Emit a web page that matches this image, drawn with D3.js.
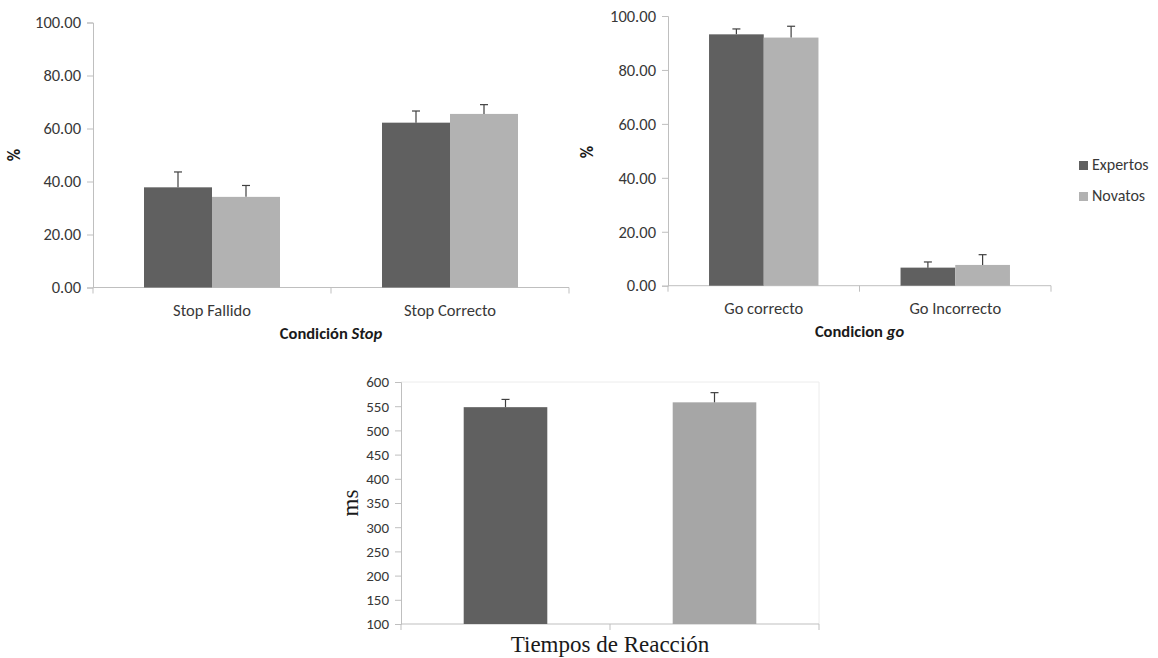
<!DOCTYPE html>
<html>
<head>
<meta charset="utf-8">
<script src="https://cdn.jsdelivr.net/npm/d3@7"></script>
<style>
  html, body { margin: 0; padding: 0; background: #fff; }
  svg { display: block; }
</style>
</head>
<body>
<svg id="chart" width="1158" height="658"></svg>
<script>
// ---------- data ----------
const series = ["Expertos", "Novatos"];

const stopCategories = ["Stop Fallido", "Stop Correcto"];
const stopExpertos = [37.8, 62.2];
const stopNovatos = [34.2, 65.5];
const stopExpertosErr = [5.8, 4.4];
const stopNovatosErr = [4.3, 3.5];

const goCategories = ["Go correcto", "Go Incorrecto"];
const goExpertos = [93.2, 6.7];
const goNovatos = [92.0, 7.7];
const goExpertosErr = [2.0, 2.1];
const goNovatosErr = [4.2, 3.8];

const pctTicks = [0, 20, 40, 60, 80, 100];

const rtCategories = ["Expertos", "Novatos"];
const rtValues = [548, 558];
const rtErr = [16, 20];
const rtTicks = [100, 150, 200, 250, 300, 350, 400, 450, 500, 550, 600];

// ---------- styles ----------
const colors = { Expertos: "#606060", Novatos: "#b2b2b2" };
const rtColors = { Expertos: "#606060", Novatos: "#a6a6a6" };
const axisColor = "#bfbfbf";
const errColor = "#404040";
const textColor = "#383838";
const sansFont = "Carlito, Lato, 'Open Sans', sans-serif";
const serifFont = "'Liberation Serif', 'DejaVu Serif', serif";

const svg = d3.select("#chart");

function drawAxes(g, x, y, ticks, fmt, tickSize, x0, x1, y0) {
  const yAxis = d3.axisLeft(y).tickValues(ticks).tickFormat(fmt).tickSize(6).tickPadding(6);
  const ya = g.append("g").attr("transform", `translate(${x0},0)`).call(yAxis);
  ya.select(".domain").attr("stroke", axisColor);
  ya.selectAll(".tick line").attr("stroke", axisColor);
  ya.selectAll(".tick text")
    .style("font-family", sansFont).style("font-size", tickSize + "px").attr("fill", textColor);
  g.append("line").attr("x1", x0).attr("x2", x1).attr("y1", y0).attr("y2", y0)
    .attr("stroke", axisColor);
  const bounds = [x.range()[0]].concat(x.domain().map(d => x(d) + x.bandwidth()));
  g.selectAll(null).data(bounds).enter().append("line")
    .attr("x1", d => d).attr("x2", d => d).attr("y1", y0).attr("y2", y0 + 6)
    .attr("stroke", axisColor);
}

function groupedChart(opts) {
  const g = svg.append("g");
  const x = d3.scaleBand().domain(opts.categories).range([opts.x0, opts.x1]);
  const y = d3.scaleLinear().domain([0, 100]).range([opts.y0, opts.y1]);
  const groupW = x.bandwidth() * (2 / 3.5);
  const xs = d3.scaleBand().domain(series).range([0, groupW]);

  drawAxes(g, x, y, pctTicks, d3.format(".2f"), 16.5, opts.x0, opts.x1, opts.y0);

  const data = [];
  opts.categories.forEach((c, i) => {
    data.push({ c, s: "Expertos", v: opts.exp[i], e: opts.expErr[i] });
    data.push({ c, s: "Novatos", v: opts.nov[i], e: opts.novErr[i] });
  });
  const bx = d => x(d.c) + (x.bandwidth() - groupW) / 2 + xs(d.s);

  g.selectAll(".bar").data(data).enter().append("rect")
    .attr("x", bx).attr("width", xs.bandwidth())
    .attr("y", d => y(d.v)).attr("height", d => y(0) - y(d.v))
    .attr("fill", d => colors[d.s]);

  const ex = d => bx(d) + xs.bandwidth() / 2;
  g.selectAll(".err").data(data).enter().append("line")
    .attr("x1", ex).attr("x2", ex).attr("y1", d => y(d.v)).attr("y2", d => y(d.v + d.e))
    .attr("stroke", errColor).attr("stroke-width", 1.2);
  g.selectAll(".cap").data(data).enter().append("line")
    .attr("x1", d => ex(d) - 4).attr("x2", d => ex(d) + 4)
    .attr("y1", d => y(d.v + d.e)).attr("y2", d => y(d.v + d.e))
    .attr("stroke", errColor).attr("stroke-width", 1.2);

  g.selectAll(".cat").data(opts.categories).enter().append("text")
    .attr("x", d => x(d) + x.bandwidth() / 2).attr("y", opts.y0 + 28)
    .attr("text-anchor", "middle").style("font-family", sansFont).style("font-size", "16.5px")
    .attr("fill", textColor).text(d => d);

  const t = g.append("text").attr("x", (opts.x0 + opts.x1) / 2).attr("y", opts.y0 + 51)
    .attr("text-anchor", "middle").style("font-family", sansFont).style("font-size", "16.5px")
    .style("font-weight", "bold").attr("fill", "#1a1a1a");
  t.append("tspan").text(opts.title[0]);
  t.append("tspan").style("font-style", "italic").text(opts.title[1]);

  g.append("text").attr("transform", `translate(${opts.ylabX},${opts.ylabY}) rotate(-90)`)
    .attr("text-anchor", "middle").attr("dominant-baseline", "middle")
    .style("font-family", sansFont).style("font-size", "17px").style("font-weight", "bold")
    .attr("fill", "#1a1a1a").text("%");
}

groupedChart({
  categories: stopCategories, exp: stopExpertos, nov: stopNovatos,
  expErr: stopExpertosErr, novErr: stopNovatosErr,
  x0: 93, x1: 569, y0: 287.5, y1: 22.5,
  title: ["Condición ", "Stop"], ylabX: 16, ylabY: 155
});

groupedChart({
  categories: goCategories, exp: goExpertos, nov: goNovatos,
  expErr: goExpertosErr, novErr: goNovatosErr,
  x0: 668, x1: 1051, y0: 285.7, y1: 16,
  title: ["Condicion ", "go"], ylabX: 589, ylabY: 152
});

// legend
const leg = svg.append("g");
series.forEach((s, i) => {
  const ly = 166 + i * 31;
  leg.append("rect").attr("x", 1079).attr("y", ly - 5).attr("width", 9).attr("height", 9)
    .attr("fill", colors[s]);
  leg.append("text").attr("x", 1092).attr("y", ly).attr("dominant-baseline", "middle")
    .style("font-family", sansFont).style("font-size", "16px").attr("fill", textColor).text(s);
});

// ---------- reaction time chart ----------
(function () {
  const x0 = 401, x1 = 819, y0 = 624, y1 = 382;
  const g = svg.append("g");
  const x = d3.scaleBand().domain(rtCategories).range([x0, x1]);
  const y = d3.scaleLinear().domain([100, 600]).range([y0, y1]);
  const bw = x.bandwidth() / 2.5;

  g.append("line").attr("x1", x0).attr("x2", x1).attr("y1", y1).attr("y2", y1).attr("stroke", "#ececec");
  g.append("line").attr("x1", x1).attr("x2", x1).attr("y1", y1).attr("y2", y0).attr("stroke", "#ececec");

  drawAxes(g, x, y, rtTicks, d3.format("d"), 15, x0, x1, y0);

  const data = rtCategories.map((c, i) => ({ c, v: rtValues[i], e: rtErr[i] }));
  const bx = d => x(d.c) + (x.bandwidth() - bw) / 2;
  g.selectAll(".bar").data(data).enter().append("rect")
    .attr("x", bx).attr("width", bw)
    .attr("y", d => y(d.v)).attr("height", d => y(100) - y(d.v))
    .attr("fill", d => rtColors[d.c]);
  const ex = d => bx(d) + bw / 2;
  g.selectAll(".err").data(data).enter().append("line")
    .attr("x1", ex).attr("x2", ex).attr("y1", d => y(d.v)).attr("y2", d => y(d.v + d.e))
    .attr("stroke", errColor).attr("stroke-width", 1.2);
  g.selectAll(".cap").data(data).enter().append("line")
    .attr("x1", d => ex(d) - 4).attr("x2", d => ex(d) + 4)
    .attr("y1", d => y(d.v + d.e)).attr("y2", d => y(d.v + d.e))
    .attr("stroke", errColor).attr("stroke-width", 1.2);

  g.append("text").attr("x", (x0 + x1) / 2).attr("y", 652)
    .attr("text-anchor", "middle").style("font-family", serifFont).style("font-size", "23px")
    .attr("fill", "#1a1a1a").text("Tiempos de Reacción");
  g.append("text").attr("transform", `translate(353,503) rotate(-90)`)
    .attr("text-anchor", "middle").attr("dominant-baseline", "middle")
    .style("font-family", serifFont).style("font-size", "23px")
    .attr("fill", "#1a1a1a").text("ms");
})();
</script>
</body>
</html>
